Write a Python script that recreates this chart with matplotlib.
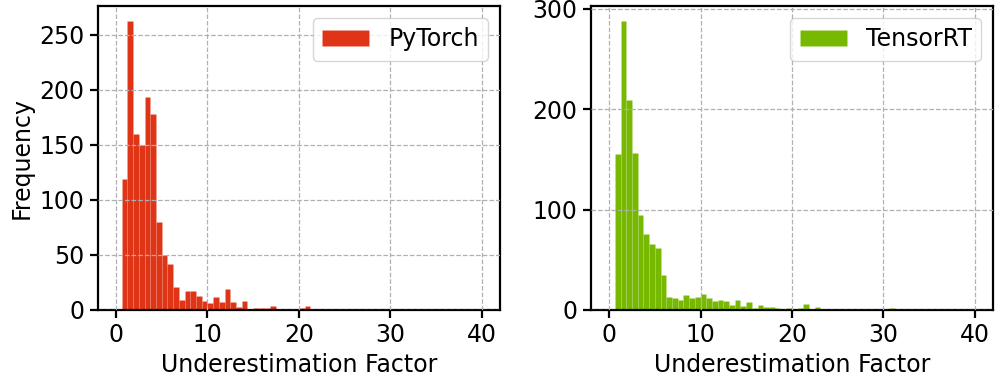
import numpy as np
import matplotlib
matplotlib.use("Agg")
import matplotlib.pyplot as plt

# histogram bins: 64 equal bins over [0, 40]
bin_edges = np.linspace(0, 40, 65)

# counts per bin (bin 0 first)
pytorch_counts = [
    0, 119, 263, 160, 150, 194, 178, 80, 50, 42,
    21, 9, 17, 17, 13, 8, 6, 12, 7, 19,
    7, 3, 8, 1, 2, 2, 2, 4, 0, 0,
    0, 1, 2, 4, 0, 0, 0, 0, 1, 0,
    0, 0, 0, 1,
]
tensorrt_counts = [
    0, 155, 288, 209, 156, 95, 76, 66, 62, 35,
    13, 12, 10, 15, 12, 13, 16, 12, 9, 10,
    9, 5, 10, 4, 8, 2, 5, 3, 3, 2,
    1, 2, 1, 2, 6, 0, 3, 1, 0, 0,
    0, 0, 0, 0, 1, 0, 0, 0, 0, 2,
    0, 0, 0, 0, 0, 0, 0, 0, 0, 0,
    1,
]

series = [
    ("PyTorch", pytorch_counts, "#DF3416"),
    ("TensorRT", tensorrt_counts, "#76B900"),
]

plt.rcParams["font.family"] = "DejaVu Sans"
plt.rcParams["font.size"] = 17
plt.rcParams["axes.linewidth"] = 1.6
plt.rcParams["xtick.major.width"] = 1.6
plt.rcParams["ytick.major.width"] = 1.6
plt.rcParams["xtick.major.size"] = 6
plt.rcParams["ytick.major.size"] = 6

fig, axes = plt.subplots(1, 2, figsize=(9.97, 3.86), dpi=100)
fig.subplots_adjust(left=0.098, right=0.996, bottom=0.197, top=0.984, wspace=0.226)

for ax, (name, counts, color) in zip(axes, series):
    counts = np.array(counts, dtype=float)
    centers = (bin_edges[:-1] + bin_edges[1:]) / 2
    weights = np.zeros(len(centers))
    weights[:len(counts)] = counts
    # thin, faint seams between the bars like the original
    ax.hist(centers, bins=bin_edges, weights=weights, color=color,
            edgecolor=(1, 1, 1, 0.12), linewidth=0.4, label=name)
    ax.set_xlim(-2, 42)
    ax.set_xticks([0, 10, 20, 30, 40])
    ax.set_xlabel("Underestimation Factor")
    ax.grid(True, linestyle="--", color="#b0b0b0", linewidth=0.9)
    ax.set_axisbelow(False)
    ax.legend(loc="upper right")

axes[0].set_ylabel("Frequency")

plt.savefig("out.png", dpi=100)
